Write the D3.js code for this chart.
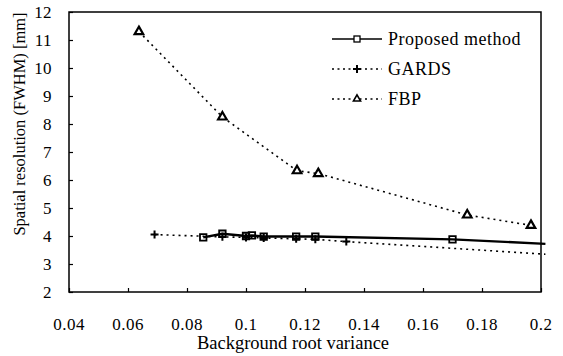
<!DOCTYPE html>
<html><head><meta charset="utf-8">
<script src="https://cdn.jsdelivr.net/npm/d3@7"></script>
<style>body{margin:0;background:#fff}svg{display:block}</style>
</head><body><svg id="c" width="563" height="356" font-family="Liberation Serif, Times New Roman, serif"></svg>
<script>
const xTicks = [0.04,0.06,0.08,0.1,0.12,0.14,0.16,0.18,0.2];
const yTicks = [2,3,4,5,6,7,8,9,10,11,12];
const proposedX = [0.0855,0.092,0.1,0.102,0.106,0.117,0.1235,0.170,0.2015];
const proposedY = [3.95,4.08,4.0,4.02,3.98,3.98,3.98,3.88,3.72];
const gardsX = [0.069,0.092,0.1,0.106,0.117,0.1235,0.134,0.2015];
const gardsY = [4.05,3.97,3.95,3.93,3.9,3.88,3.8,3.35];
const fbpX = [0.0637,0.092,0.1173,0.1245,0.175,0.1966];
const fbpY = [11.3,8.25,6.33,6.23,4.75,4.38];
const seriesNames = ["Proposed method","GARDS","FBP"];

const svg = d3.select("#c");
const FONT = "'Liberation Serif', 'Times New Roman', serif";
const L=69,R=541,T=12,B=292;
const x = d3.scaleLinear().domain([0.04,0.2]).range([L,R]);
const y = d3.scaleLinear().domain([2,12]).range([B,T]);

svg.append("rect").attr("x",L).attr("y",T).attr("width",R-L).attr("height",B-T)
  .attr("fill","none").attr("stroke","#000").attr("stroke-width",1.5);

const ya = svg.append("g").attr("transform",`translate(${L},0)`)
  .call(d3.axisRight(y).tickValues(yTicks).tickSize(4).tickFormat(""));
ya.select(".domain").remove();
ya.selectAll("line").attr("stroke-width",1.2);
svg.append("g").selectAll("text").data(yTicks).join("text")
  .attr("x",52).attr("y",d=>y(d)+5.5).attr("text-anchor","end")
  .attr("font-family",FONT).attr("font-size",17).attr("letter-spacing",0.4).text(d=>d);

const xa = svg.append("g").attr("transform",`translate(0,${B})`)
  .call(d3.axisTop(x).tickValues(xTicks).tickSize(4).tickFormat(""));
xa.select(".domain").remove();
xa.selectAll("line").attr("stroke-width",1.2);
svg.append("g").selectAll("text").data(xTicks).join("text")
  .attr("x",d=>x(d)).attr("y",330).attr("text-anchor","middle")
  .attr("font-family",FONT).attr("font-size",17).attr("letter-spacing",0.5).text(d=>d);

svg.append("text").attr("x",293).attr("y",349).attr("text-anchor","middle")
  .attr("font-family",FONT).attr("font-size",18.5).text("Background root variance");
svg.append("text").attr("transform","translate(25,124) rotate(-90)")
  .attr("text-anchor","middle").attr("font-family",FONT).attr("font-size",16.5).text("Spatial resolution (FWHM) [mm]");

const line = d3.line().x(d=>x(d[0])).y(d=>y(d[1]));
const P = proposedX.map((v,i)=>[v,proposedY[i]]);
const G = gardsX.map((v,i)=>[v,gardsY[i]]);
const F = fbpX.map((v,i)=>[v,fbpY[i]]);

svg.append("path").datum(F).attr("d",line).attr("fill","none").attr("stroke","#000")
  .attr("stroke-width",1.6).attr("stroke-dasharray","2,4");
svg.append("path").datum(G).attr("d",line).attr("fill","none").attr("stroke","#000")
  .attr("stroke-width",1.6).attr("stroke-dasharray","2,4");
svg.append("path").datum(P).attr("d",line).attr("fill","none").attr("stroke","#000")
  .attr("stroke-width",2.4);

const tri = d3.symbol().type(d3.symbolTriangle).size(32);
const sq = d3.symbol().type(d3.symbolSquare).size(42);

svg.append("g").selectAll("path").data(F).join("path")
  .attr("transform",d=>`translate(${x(d[0])},${y(d[1])})`).attr("d",tri)
  .attr("fill","#fff").attr("stroke","#000").attr("stroke-width",2.2);
function plus(g,cx,cy){
  g.append("path").attr("d",`M${cx-4},${cy}H${cx+4}M${cx},${cy-4}V${cy+4}`)
   .attr("stroke","#000").attr("stroke-width",2);
}
const gp = svg.append("g");
G.slice(0,-1).forEach(d=>plus(gp,x(d[0]),y(d[1])));
svg.append("g").selectAll("path").data(P.slice(0,-1)).join("path")
  .attr("transform",d=>`translate(${x(d[0])},${y(d[1])})`).attr("d",sq)
  .attr("fill","none").attr("stroke","#000").attr("stroke-width",1.8);

const lg = svg.append("g");
const rows=[39,69,99];
lg.append("line").attr("x1",332).attr("x2",382).attr("y1",rows[0]).attr("y2",rows[0]).attr("stroke","#000").attr("stroke-width",1.5);
lg.append("rect").attr("x",354).attr("y",rows[0]-3).attr("width",6).attr("height",6).attr("fill","#fff").attr("stroke","#000").attr("stroke-width",1.3);
[1,2].forEach(i=>{
  lg.append("line").attr("x1",332).attr("x2",382).attr("y1",rows[i]).attr("y2",rows[i]).attr("stroke","#000").attr("stroke-width",1.5).attr("stroke-dasharray","2,3.5");
});
plus(lg,357,rows[1]);
lg.append("path").attr("transform",`translate(357,${rows[2]})`).attr("d",d3.symbol().type(d3.symbolTriangle).size(22))
  .attr("fill","#fff").attr("stroke","#000").attr("stroke-width",1.6);
seriesNames.forEach((n,i)=>lg.append("text").attr("x",388).attr("y",rows[i]+6)
  .attr("font-family",FONT).attr("font-size",18).attr("letter-spacing",0.5).text(n));
</script></body></html>
